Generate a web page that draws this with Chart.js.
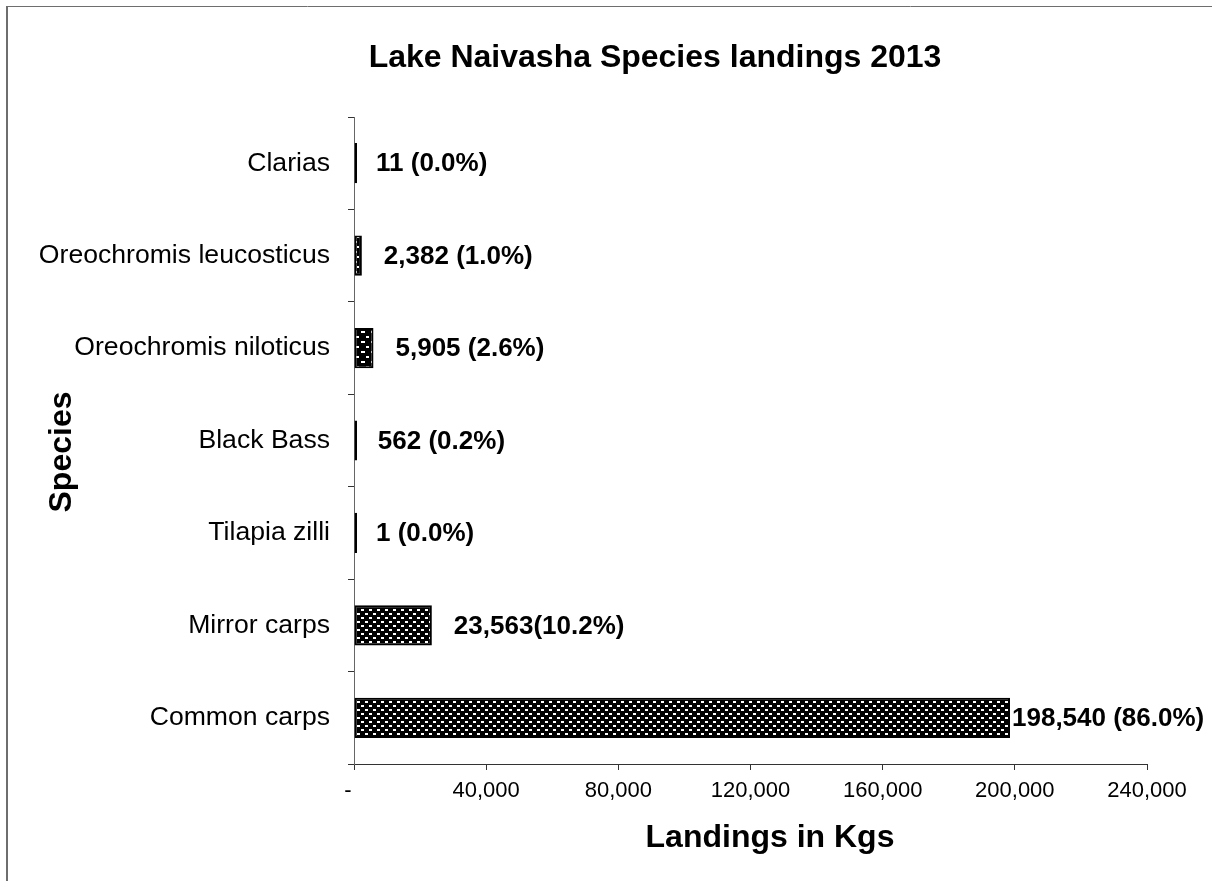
<!DOCTYPE html>
<html>
<head>
<meta charset="utf-8">
<title>Lake Naivasha Species landings 2013</title>
<script src="https://cdn.jsdelivr.net/npm/chart.js@4.4.0/dist/chart.umd.min.js"></script>
<style>
    html, body { margin: 0; padding: 0; background: #fff; }
    canvas { display: block; }
</style>
</head>
<body>
<canvas id="grafico-especies" width="1212" height="881"></canvas>
<script>
// ===================== DADOS =====================
const especies = [
    "Clarias",
    "Oreochromis leucosticus",
    "Oreochromis niloticus",
    "Black Bass",
    "Tilapia zilli",
    "Mirror carps",
    "Common carps"
];
const desembarques = [11, 2382, 5905, 562, 1, 23563, 198540];
const rotulos = [
    "11 (0.0%)",
    "2,382 (1.0%)",
    "5,905 (2.6%)",
    "562 (0.2%)",
    "1 (0.0%)",
    "23,563(10.2%)",
    "198,540 (86.0%)"
];
const eixoX = { min: 0, max: 240000, passo: 40000 };

const FONTE = "'Liberation Sans', Arial, sans-serif";

// ===================== HACHURAS =====================
function criarHachura(w, h, tracos) {
    const c = document.createElement("canvas");
    c.width = w;
    c.height = h;
    const g = c.getContext("2d");
    g.fillStyle = "#000";
    g.fillRect(0, 0, w, h);
    g.fillStyle = "#fff";
    tracos.forEach(([x, y, tw, th]) => g.fillRect(x, y, tw, th));
    return document.getElementById("grafico-especies").getContext("2d").createPattern(c, "repeat");
}

const hachuraTijolo = criarHachura(8, 8, [[1, 1, 3, 2], [5, 5, 3, 2]]);
const hachuraGrande = criarHachura(10, 10, [[1, 1, 4, 2], [6, 6, 3, 2]]);
const hachuraPontos = criarHachura(6, 10, [[1, 1, 2, 2], [3, 6, 2, 2]]);
const preenchimentos = [
    "#000", hachuraPontos, hachuraGrande, "#000", "#000", hachuraTijolo, hachuraTijolo
];

// ===================== PLUGINS =====================
const moldura = {
    id: "moldura",
    beforeDraw(chart) {
        const ctx = chart.ctx;
        ctx.save();
        ctx.fillStyle = "#fff";
        ctx.fillRect(0, 0, chart.width, chart.height);
        ctx.strokeStyle = "#6e6e6e";
        ctx.lineWidth = 2;
        ctx.beginPath();
        ctx.moveTo(7, chart.height);
        ctx.lineTo(7, 6.5);
        ctx.stroke();
        ctx.lineWidth = 1;
        ctx.beginPath();
        ctx.moveTo(6, 6.5);
        ctx.lineTo(chart.width, 6.5);
        ctx.stroke();
        ctx.restore();
    }
};

const titulos = {
    id: "titulos",
    afterDraw(chart) {
        const ctx = chart.ctx;
        ctx.save();
        ctx.fillStyle = "#000";
        ctx.textAlign = "center";
        ctx.textBaseline = "middle";
        ctx.font = "bold 32px " + FONTE;
        ctx.fillText("Lake Naivasha Species landings 2013", 655, 58);
        ctx.fillText("Landings in Kgs", 770, 838);
        ctx.translate(62, 452);
        ctx.rotate(-Math.PI / 2);
        ctx.fillText("Species", 0, 0);
        ctx.restore();
    }
};

const rotulosBarras = {
    id: "rotulosBarras",
    afterDatasetsDraw(chart) {
        const ctx = chart.ctx;
        const meta = chart.getDatasetMeta(0);
        const escala = chart.scales.x;
        ctx.save();
        ctx.font = "bold 26px " + FONTE;
        ctx.fillStyle = "#000";
        ctx.textAlign = "left";
        ctx.textBaseline = "middle";
        meta.data.forEach((barra, i) => {
            const fim = escala.getPixelForValue(desembarques[i]);
            const largura = ctx.measureText(rotulos[i]).width;
            let gap = 22;
            if (fim + gap + largura > chart.width) gap = 2;
            ctx.fillText(rotulos[i], fim + gap, barra.y + 1);
        });
        ctx.restore();
    }
};

// ===================== GRAFICO =====================
const ctx = document.getElementById("grafico-especies").getContext("2d");
new Chart(ctx, {
    type: "bar",
    data: {
        labels: especies,
        datasets: [{
            data: desembarques,
            backgroundColor: preenchimentos,
            borderColor: "#000",
            borderWidth: 2,
            borderSkipped: false,
            minBarLength: 3,
            categoryPercentage: 1,
            barPercentage: 0.435
        }]
    },
    options: {
        indexAxis: "y",
        responsive: false,
        animation: false,
        layout: { padding: { left: 0, top: 117, right: 65, bottom: 0 } },
        plugins: {
            legend: { display: false },
            tooltip: { enabled: false },
            title: { display: false }
        },
        scales: {
            x: {
                min: eixoX.min,
                max: eixoX.max,
                afterFit(scale) { scale.height = 117; },
                ticks: {
                    stepSize: eixoX.passo,
                    color: "#000",
                    padding: 8,
                    maxRotation: 0,
                    font: { family: FONTE, size: 22 },
                    callback: v => v === 0 ? "-  " : v.toLocaleString("en-US")
                },
                grid: {
                    drawOnChartArea: false,
                    tickLength: 6,
                    color: "#333"
                },
                border: { display: true, color: "#333", width: 1 }
            },
            y: {
                afterFit(scale) { scale.width = 354; },
                ticks: {
                    color: "#000",
                    padding: 18,
                    font: { family: FONTE, size: 26.6 }
                },
                grid: {
                    offset: true,
                    drawOnChartArea: false,
                    tickLength: 6,
                    color: "#333"
                },
                border: { display: true, color: "#666", width: 1 }
            }
        }
    },
    plugins: [moldura, rotulosBarras, titulos]
});
</script>
</body>
</html>
